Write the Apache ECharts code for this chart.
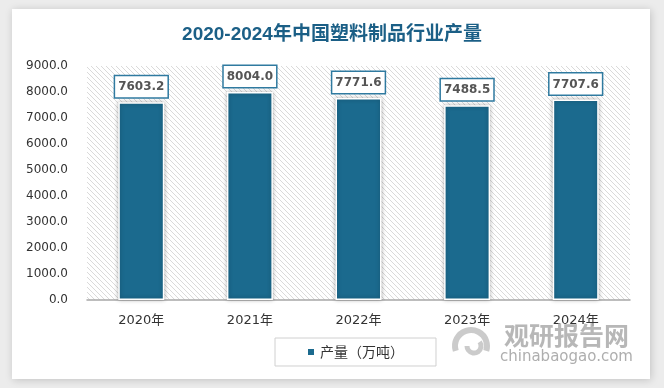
<!DOCTYPE html>
<html>
<head>
<meta charset="utf-8">
<script src="https://cdn.jsdelivr.net/npm/echarts@6/dist/echarts.min.js"></script>
<style>
html,body{margin:0;padding:0;background:#ececec;}
#c{width:664px;height:388px;}
</style>
</head>
<body>
<div id="c"></div>
<script>
const titleText = '2020-2024年中国塑料制品行业产量';
const categories = ['2020年', '2021年', '2022年', '2023年', '2024年'];
const seriesName = '产量（万吨）';
const values = [7603.2, 8004.0, 7771.6, 7488.5, 7707.6];
const yTicks = [0, 1000, 2000, 3000, 4000, 5000, 6000, 7000, 8000, 9000];

// hatch pattern
const S = 5;
const pc = document.createElement('canvas');
pc.width = S; pc.height = S;
const px = pc.getContext('2d');
px.fillStyle = '#ffffff';
px.fillRect(0, 0, S, S);
px.strokeStyle = '#dadada';
px.lineWidth = 1;
px.beginPath();
px.moveTo(-1, -1); px.lineTo(S + 1, S + 1);
px.moveTo(-1, S - 1); px.lineTo(1, S + 1);
px.moveTo(S - 1, -1); px.lineTo(S + 1, 1);
px.stroke();

const chart = echarts.init(document.getElementById('c'), null, {renderer: 'canvas'});
const option = {
  backgroundColor: '#ececec',
  animation: false,
  title: {
    text: titleText,
    left: 'center',
    top: 20,
    textStyle: {
      fontSize: 19,
      fontWeight: 'bold',
      color: '#1b5f86',
      fontFamily: '"Liberation Sans", "Noto Sans CJK SC", sans-serif'
    }
  },
  graphic: [
    {
      type: 'rect', z: -10, silent: true,
      shape: {x: 12, y: 9, width: 638, height: 370},
      style: {fill: '#ffffff', shadowBlur: 8, shadowColor: 'rgba(0,0,0,0.18)', shadowOffsetX: 1, shadowOffsetY: 1}
    },
    {
      type: 'arc', z: 100, silent: true,
      shape: {cx: 471, cy: 346, r: 16, startAngle: Math.PI * 0.9, endAngle: Math.PI * 2.1},
      style: {stroke: 'rgba(190,190,190,0.8)', lineWidth: 6, fill: null}
    },
    {
      type: 'arc', z: 100, silent: true,
      shape: {cx: 474, cy: 346, r: 7, startAngle: Math.PI * 1.8, endAngle: Math.PI * 3.0},
      style: {stroke: 'rgba(190,190,190,0.8)', lineWidth: 5, fill: null}
    },
    {
      type: 'text', z: 100, silent: true,
      left: 504, top: 323,
      style: {text: '观研报告网', fontSize: 25, fontWeight: 'bold', fill: 'rgba(170,170,170,0.85)', fontFamily: '"Noto Sans CJK SC", sans-serif'}
    },
    {
      type: 'text', z: 100, silent: true,
      left: 500, top: 350,
      style: {text: 'chinabaogao.com', fontSize: 15, fill: 'rgba(160,160,160,0.85)', fontFamily: '"DejaVu Sans", sans-serif'}
    }
  ],
  legend: {
    data: [seriesName],
    left: 275,
    top: 338,
    width: 168,
    padding: [7, 32, 7, 31],
    borderColor: '#d0d0d0',
    borderWidth: 1,
    backgroundColor: '#ffffff',
    itemWidth: 8,
    itemHeight: 8,
    icon: 'rect',
    textStyle: {fontSize: 14, color: '#333', fontFamily: '"Noto Sans CJK SC", sans-serif'}
  },
  grid: {
    left: 87, right: 34, top: 66, bottom: 88,
    show: true,
    borderWidth: 0,
    backgroundColor: {image: pc, repeat: 'repeat'}
  },
  xAxis: {
    type: 'category',
    data: categories,
    axisLine: {lineStyle: {color: '#a8a8a8', width: 1.5}},
    axisTick: {show: false},
    axisLabel: {margin: 14, fontSize: 13, color: '#333', fontFamily: '"DejaVu Sans", "Noto Sans CJK SC", sans-serif'}
  },
  yAxis: {
    type: 'value',
    min: yTicks[0],
    max: yTicks[yTicks.length - 1],
    interval: yTicks[1] - yTicks[0],
    axisLine: {show: false},
    axisTick: {show: false},
    splitLine: {show: false},
    axisLabel: {
      margin: 19, fontSize: 12, color: '#333',
      fontFamily: '"DejaVu Sans", sans-serif',
      formatter: v => v.toFixed(1)
    }
  },
  series: [{
    name: seriesName,
    type: 'bar',
    data: values,
    barWidth: 46,
    itemStyle: {
      color: '#1b6a8e',
      borderColor: '#ffffff',
      borderWidth: 1.5,
      shadowBlur: 4,
      shadowColor: 'rgba(0,0,0,0.3)'
    },
    label: {
      show: true,
      position: 'top',
      distance: 5,
      formatter: p => p.value.toFixed(1),
      backgroundColor: '#ffffff',
      borderColor: '#2f7aa0',
      borderWidth: 1.5,
      padding: [5, 3, 4, 3],
      fontSize: 12,
      fontWeight: 'bold',
      color: '#555',
      fontFamily: '"DejaVu Sans", sans-serif'
    }
  }]
};
chart.setOption(option);
</script>
</body>
</html>
